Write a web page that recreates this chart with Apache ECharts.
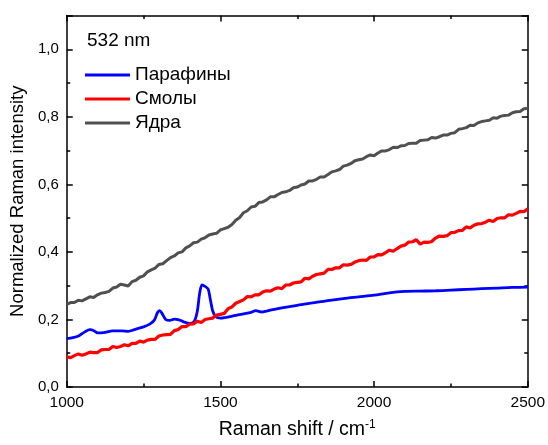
<!DOCTYPE html>
<html><head><meta charset="utf-8">
<script src="https://cdn.jsdelivr.net/npm/echarts@6/dist/echarts.min.js"></script>
<style>html,body{margin:0;padding:0;background:#fff}#c{width:548px;height:445px}</style>
</head><body><div id="c"></div>
<script>
const seriesNames = ['Парафины', 'Смолы', 'Ядра'];
const annotation = '532 nm';
const xTickLabels = ['1000', '1500', '2000', '2500'];
const yTickLabels = ['0,0', '0,2', '0,4', '0,6', '0,8', '1,0'];

// shared Raman shift grid (cm-1) for Смолы and Ядра
const shift = [1000,1012.5,1025,1037.5,1050,1062.5,1075,1087.5,1100,1112.5,1125,1137.5,1150,1162.5,1175,1187.5,
  1200,1212.5,1225,1237.5,1250,1262.5,1275,1287.5,1300,1312.5,1325,1337.5,1350,1362.5,1375,1387.5,
  1400,1412.5,1425,1437.5,1450,1462.5,1475,1487.5,1500,1512.5,1525,1537.5,1550,1562.5,1575,1587.5,
  1600,1612.5,1625,1637.5,1650,1662.5,1675,1687.5,1700,1712.5,1725,1737.5,1750,1762.5,1775,1787.5,
  1800,1812.5,1825,1837.5,1850,1862.5,1875,1887.5,1900,1912.5,1925,1937.5,1950,1962.5,1975,1987.5,
  2000,2012.5,2025,2037.5,2050,2062.5,2075,2087.5,2100,2112.5,2125,2137.5,2150,2162.5,2175,2187.5,
  2200,2212.5,2225,2237.5,2250,2262.5,2275,2287.5,2300,2312.5,2325,2337.5,2350,2362.5,2375,2387.5,
  2400,2412.5,2425,2437.5,2450,2462.5,2475,2487.5,2500];

const yadra = [0.245,0.250,0.250,0.257,0.255,0.261,0.267,0.265,0.273,0.278,0.280,0.283,0.293,0.296,0.304,0.302,
  0.299,0.312,0.316,0.325,0.329,0.341,0.347,0.352,0.363,0.365,0.374,0.383,0.388,0.397,0.400,0.412,
  0.418,0.427,0.429,0.438,0.442,0.450,0.453,0.455,0.465,0.469,0.473,0.481,0.494,0.502,0.516,0.522,
  0.533,0.535,0.546,0.548,0.554,0.563,0.563,0.570,0.576,0.578,0.582,0.590,0.592,0.598,0.601,0.610,
  0.610,0.615,0.622,0.622,0.629,0.637,0.640,0.644,0.654,0.657,0.662,0.670,0.673,0.675,0.682,0.687,
  0.685,0.693,0.699,0.699,0.703,0.710,0.709,0.714,0.715,0.721,0.722,0.722,0.730,0.731,0.732,0.739,
  0.737,0.741,0.746,0.746,0.751,0.753,0.763,0.765,0.768,0.775,0.774,0.782,0.786,0.788,0.790,0.797,
  0.796,0.802,0.804,0.805,0.812,0.815,0.816,0.824,0.825];

const smoly = [0.089,0.087,0.093,0.098,0.094,0.098,0.103,0.102,0.102,0.110,0.111,0.111,0.120,0.117,0.120,0.125,
  0.122,0.129,0.129,0.136,0.133,0.139,0.141,0.141,0.151,0.154,0.155,0.156,0.167,0.170,0.179,0.179,
  0.186,0.187,0.195,0.191,0.200,0.202,0.204,0.213,0.215,0.218,0.232,0.237,0.248,0.253,0.258,0.268,
  0.267,0.273,0.273,0.281,0.285,0.284,0.290,0.294,0.291,0.302,0.302,0.308,0.310,0.311,0.322,0.320,
  0.328,0.333,0.335,0.337,0.348,0.348,0.353,0.353,0.362,0.361,0.363,0.370,0.374,0.376,0.375,0.385,
  0.385,0.392,0.391,0.398,0.405,0.402,0.410,0.417,0.420,0.429,0.430,0.436,0.423,0.429,0.428,0.431,
  0.441,0.447,0.446,0.448,0.457,0.458,0.463,0.464,0.474,0.471,0.479,0.483,0.484,0.488,0.494,0.490,
  0.499,0.501,0.501,0.510,0.509,0.514,0.520,0.519,0.528];

const parafinyShift = [1000,1020,1040,1060,1075,1090,1100,1120,1150,1180,1200,1220,1250,1270,1285,1295,1302,1310,1322,1335,1350,1365,1380,1400,1415,1425,1432,1440,1450,1460,1467,1475,1485,1500,1550,1600,1615,1635,1650,1700,1750,1800,1850,1900,1950,2000,2050,2100,2150,2200,2250,2300,2350,2400,2450,2500];
const parafiny = [0.143,0.146,0.152,0.164,0.170,0.166,0.160,0.161,0.166,0.166,0.165,0.170,0.178,0.186,0.198,0.220,0.226,0.218,0.200,0.197,0.201,0.199,0.193,0.188,0.195,0.225,0.275,0.302,0.298,0.290,0.260,0.225,0.208,0.204,0.212,0.221,0.226,0.222,0.225,0.234,0.242,0.249,0.256,0.262,0.267,0.272,0.279,0.283,0.284,0.285,0.287,0.289,0.291,0.293,0.295,0.296];

const colors = ['#0000ff', '#ff0000', '#505050'];
const FONT = 'Arial, "Liberation Sans", sans-serif';

function pairs(xs, ys) { return xs.map((x, i) => [x, ys[i]]); }

const chart = echarts.init(document.getElementById('c'), null, { renderer: 'canvas' });
const axisLine = { show: true, onZero: false, lineStyle: { color: '#000', width: 1.5 } };
const tick = { show: true, inside: true, length: 6, lineStyle: { color: '#000', width: 1.5 } };
const minor = { show: true, length: 3.5, splitNumber: 2, lineStyle: { color: '#000', width: 1.5 } };

chart.setOption({
  animation: false,
  backgroundColor: '#fff',
  grid: { left: 66, right: 15, top: 15.5, bottom: 53, containLabel: false },
  graphic: [{
    type: 'text', left: 87, top: 31,
    style: { text: annotation, font: '19px ' + FONT, fill: '#000' }
  }],
  legend: {
    data: seriesNames, orient: 'vertical', left: 80, top: 60,
    icon: 'rect', itemWidth: 45, itemHeight: 3, itemGap: 4,
    textStyle: { fontFamily: FONT, fontSize: 19, color: '#000', lineHeight: 20 }
  },
  xAxis: [{
    type: 'value', min: 1000, max: 2500, interval: 500,
    name: 'Raman shift / cm{sup|-1}', nameLocation: 'middle', nameGap: 32,
    nameTextStyle: { fontFamily: FONT, fontSize: 19.5, color: '#000',
      rich: { sup: { fontSize: 12, verticalAlign: 'top', padding: [0, 0, 10, 0], fontFamily: FONT, color: '#000' } } },
    axisLine: axisLine, axisTick: tick, minorTick: minor, splitLine: { show: false },
    axisLabel: { fontFamily: FONT, fontSize: 15.5, color: '#000', margin: 8,
      formatter: v => xTickLabels[xTickLabels.indexOf(String(v))] || '' }
  }, {
    type: 'value', position: 'top', min: 1000, max: 2500, interval: 500,
    axisLine: axisLine, axisTick: tick, minorTick: minor, splitLine: { show: false },
    axisLabel: { show: false }
  }],
  yAxis: [{
    type: 'value', min: 0, max: 1.1, interval: 0.2,
    name: 'Normalized Raman intensity', nameLocation: 'middle', nameGap: 36,
    nameTextStyle: { fontFamily: FONT, fontSize: 18.5, color: '#000' },
    axisLine: axisLine, axisTick: tick, minorTick: minor, splitLine: { show: false },
    axisLabel: { fontFamily: FONT, fontSize: 15, color: '#000', margin: 8,
      formatter: v => yTickLabels[Math.round(v / 0.2)] }
  }, {
    type: 'value', position: 'right', min: 0, max: 1.1, interval: 0.2,
    axisLine: axisLine, axisTick: tick, minorTick: minor, splitLine: { show: false },
    axisLabel: { show: false }
  }],
  series: [
    { name: seriesNames[0], type: 'line', data: pairs(parafinyShift, parafiny), showSymbol: false, symbol: 'none',
      lineStyle: { color: colors[0], width: 2.8 }, itemStyle: { color: colors[0] }, smooth: 0.3 },
    { name: seriesNames[1], type: 'line', data: pairs(shift, smoly), showSymbol: false, symbol: 'none',
      lineStyle: { color: colors[1], width: 3.2 }, itemStyle: { color: colors[1] } },
    { name: seriesNames[2], type: 'line', data: pairs(shift, yadra), showSymbol: false, symbol: 'none',
      lineStyle: { color: colors[2], width: 3 }, itemStyle: { color: colors[2] } }
  ]
});
</script></body></html>
